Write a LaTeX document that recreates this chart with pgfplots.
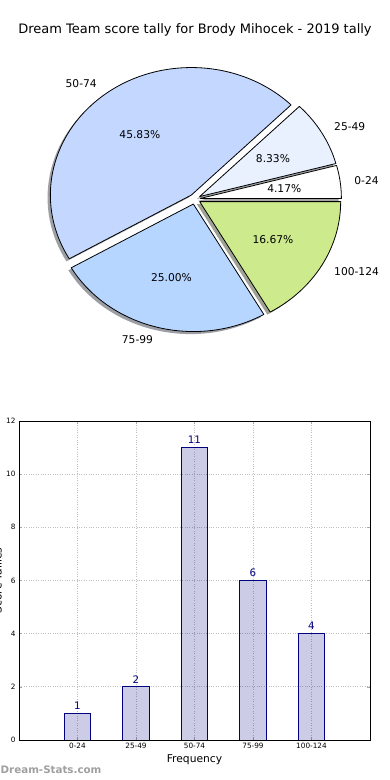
\documentclass[border=0pt]{standalone}
\usepackage{fontspec}
\setmainfont{DejaVu Sans}
\usepackage{pgfplots}
\pgfplotsset{compat=1.18}
\definecolor{cA}{RGB}{255,255,255}
\definecolor{cB}{RGB}{233,241,255}
\definecolor{cC}{RGB}{196,216,255}
\definecolor{cD}{RGB}{182,214,255}
\definecolor{cE}{RGB}{205,234,140}
\definecolor{baredge}{RGB}{0,0,128}
\newcommand\lab{\fontsize{10.7}{12}\selectfont}
% start angle, end angle, colour
\newcommand\pieshadow[3]{\fill[#3!30!black, opacity=0.5]
  ({0.04*cos((#1+#2)/2)-0.02},{0.04*sin((#1+#2)/2)-0.02}) --
  ({0.04*cos((#1+#2)/2)-0.02+cos(#1)},{0.04*sin((#1+#2)/2)-0.02+sin(#1)})
  arc[start angle=#1, end angle=#2, x radius=1, y radius=1] -- cycle;}
\newcommand\piewedge[3]{\filldraw[fill=#3, draw=black, line width=0.8pt, line join=round]
  ({0.04*cos((#1+#2)/2)},{0.04*sin((#1+#2)/2)}) --
  ({0.04*cos((#1+#2)/2)+cos(#1)},{0.04*sin((#1+#2)/2)+sin(#1)})
  arc[start angle=#1, end angle=#2, x radius=1, y radius=1] -- cycle;}
% start, end, label, anchor, pct
\newcommand\pielabel[5]{%
  \node[anchor=#4, inner sep=0pt, font=\lab] at ({1.14*cos((#1+#2)/2)},{1.14*sin((#1+#2)/2)}) {#3};
  \node[inner sep=0pt, font=\lab] at ({0.64*cos((#1+#2)/2)},{0.64*sin((#1+#2)/2)}) {#5};}
\begin{document}
\begin{tikzpicture}
\useasboundingbox (0,0) rectangle (390pt,780pt);
\clip (0,0) rectangle (390pt,780pt);
\node[font=\fontsize{13}{15}\selectfont] at (195pt,750pt) {Dream Team score tally for Brody Mihocek - 2019 tally};
% pie: counts 1,2,11,6,4 of 24 -> angles 15,30,165,90,60
\begin{axis}[at={(11.5pt,427.9pt)}, anchor=south west, scale only axis,
  width=366.6pt, height=306pt, xmin=-1.3, xmax=1.3, ymin=-1.2, ymax=1.2,
  hide axis, clip=false]
\pieshadow{0}{15}{cA}
\pieshadow{15}{45}{cB}
\pieshadow{45}{210}{cC}
\pieshadow{210}{300}{cD}
\pieshadow{300}{360}{cE}
\piewedge{0}{15}{cA}
\piewedge{15}{45}{cB}
\piewedge{45}{210}{cC}
\piewedge{210}{300}{cD}
\piewedge{300}{360}{cE}
\pielabel{0}{15}{0-24}{west}{4.17\%}
\pielabel{15}{45}{25-49}{west}{8.33\%}
\pielabel{45}{210}{50-74}{east}{45.83\%}
\pielabel{210}{300}{75-99}{east}{25.00\%}
\pielabel{300}{360}{100-124}{west}{16.67\%}
\end{axis}
\begin{axis}[at={(19pt,40pt)}, anchor=south west, scale only axis,
  width=351pt, height=319pt, xmin=-1, xmax=5, ymin=0, ymax=12,
  xtick={0,1,2,3,4}, xticklabels={0-24,25-49,50-74,75-99,100-124},
  ytick={0,2,...,12},
  tick label style={font=\fontsize{7.3}{8}\selectfont},
  /pgf/number format/assume math mode=true,
  grid=major, grid style={gray!50, dotted, line width=0.8pt},
  axis line style={line width=0.8pt},
  tick align=inside, tick style={gray!70, line width=0.5pt}, major tick length=3pt,
  xlabel={Frequency}, xlabel style={font=\lab, at={(axis description cs:0.5,0)}, anchor=center, yshift=-20pt},
  ylabel={Score Tallies}, ylabel style={font=\lab, at={(axis description cs:0,0.5)}, anchor=base, yshift=17.5pt},
  ]
\addplot[ybar, bar width=0.45, fill=baredge, fill opacity=0.2, draw=baredge, line width=0.8pt,
  nodes near coords, nodes near coords style={font=\fontsize{10.3}{11}\selectfont, text=baredge, text opacity=1, /pgf/number format/assume math mode=true}]
  coordinates {(0,1) (1,2) (2,11) (3,6) (4,4)};
\end{axis}
\node[anchor=west, inner sep=0pt, text=gray!75, font=\fontsize{10.3}{12}\selectfont\bfseries] at (0.5pt,10.5pt) {Dream-Stats.com};
\end{tikzpicture}
\end{document}
